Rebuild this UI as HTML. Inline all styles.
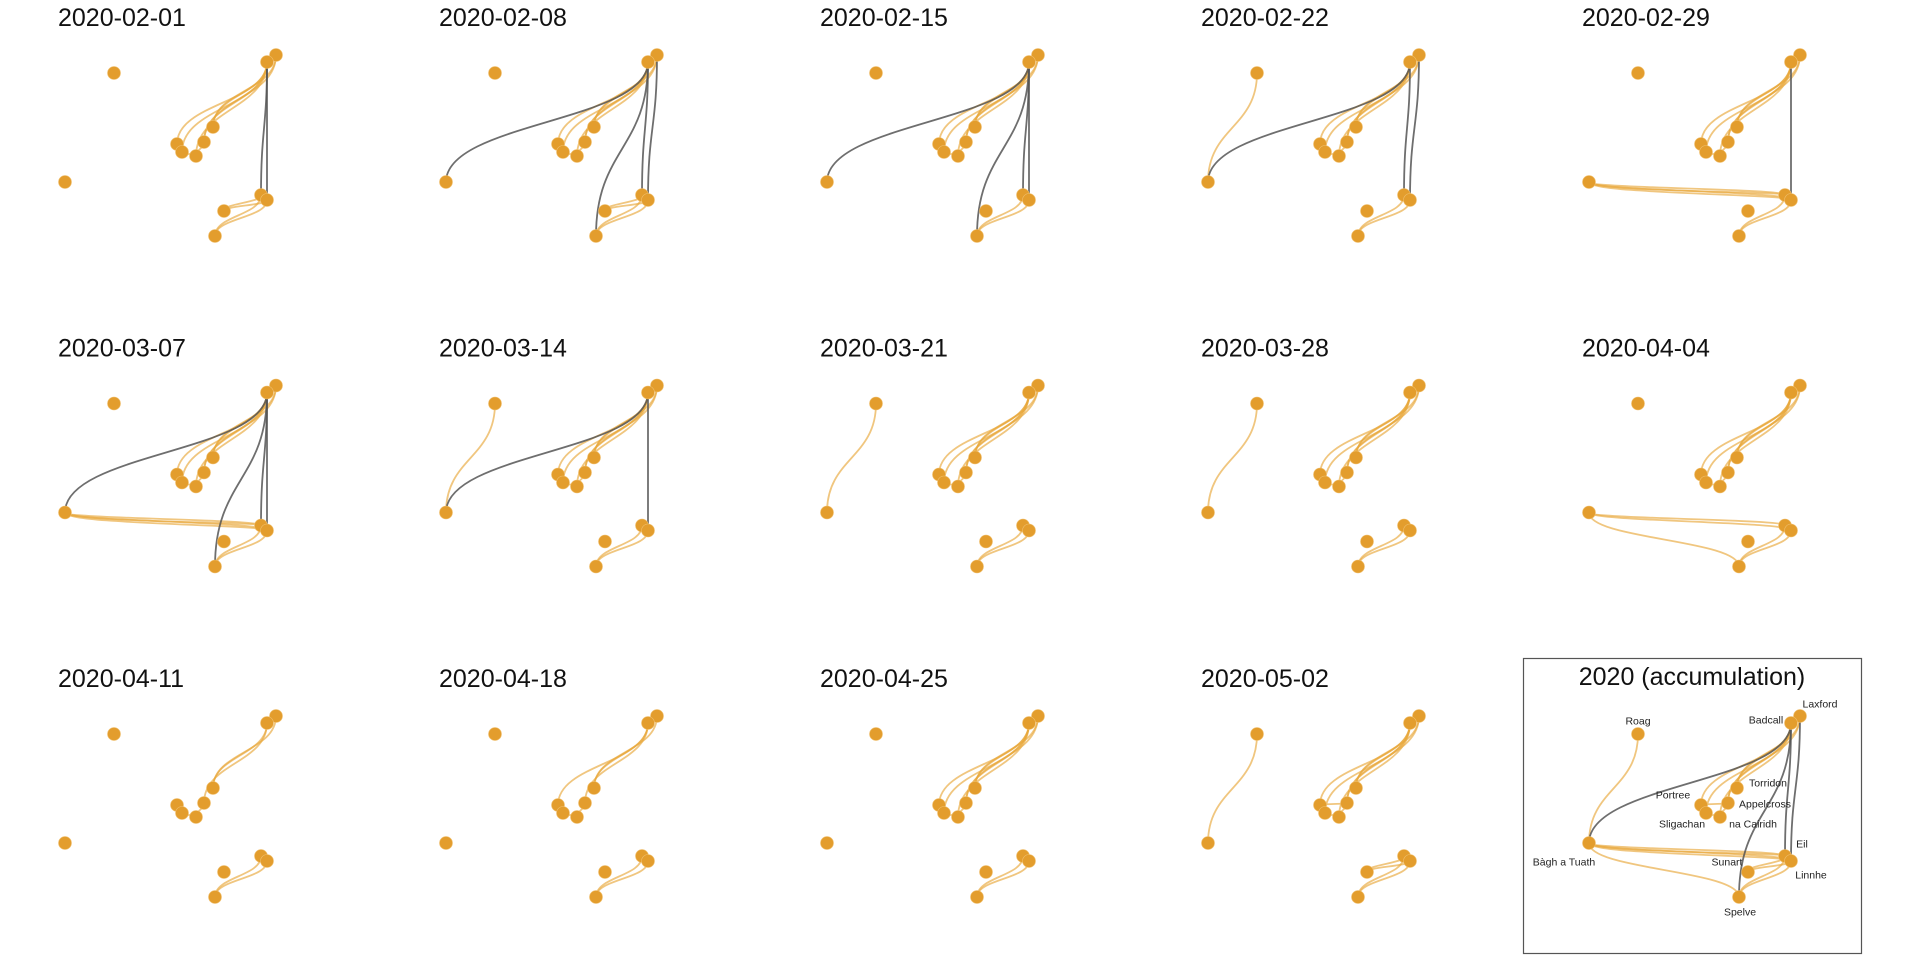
<!DOCTYPE html>
<html><head><meta charset="utf-8"><style>
html,body{margin:0;padding:0;background:#fff;width:1920px;height:960px;overflow:hidden}
svg{display:block}
text{font-family:"Liberation Sans",sans-serif}
</style></head><body>
<svg id="chart" width="1920" height="960" xmlns="http://www.w3.org/2000/svg"></svg>
<script>
const panelTitles = ["2020-02-01","2020-02-08","2020-02-15","2020-02-22","2020-02-29","2020-03-07","2020-03-14","2020-03-21","2020-03-28","2020-04-04","2020-04-11","2020-04-18","2020-04-25","2020-05-02","2020 (accumulation)"];
const nodeIds = ["LA","BA","RO","TO","AP","PO","SL","NC","BT","EI","LI","SU","SP"];
const nodeNames = ["Laxford","Badcall","Roag","Torridon","Appelcross","Portree","Sligachan","na Cairidh","Bàgh a Tuath","Eil","Linnhe","Sunart","Spelve"];
const nodeX = [276,267,114,213,204,177,182,196,65,261,267,224,215];
const nodeY = [55,62,73,127,142,144,152,156,182,195,200,211,236];
const bundle = [["BA","PO",1,"o"],["BA","SL",1,"o"],["BA","NC",1,"o"],["BA","AP",1,"o"],["BA","TO",1,"o"],["LA","AP",1,"o"],["LA","TO",1,"o"],["SL","NC",1,"o"],["AP","NC",1,"o"]];
const spEdges = [["EI","SP",1,"o"],["LI","SP",1,"o"]];
const suEdges = [["EI","SU",1,"o"],["LI","SU",1,"o"]];
const panelEdges = [
  bundle.concat(suEdges, spEdges, [["BA","EI",1,"g"],["BA","LI",1,"g"]]),
  bundle.concat(suEdges, spEdges, [["BA","EI",1,"g"],["LA","LI",1,"g"],["BA","BT",1,"g"],["BA","SP",1,"g"]]),
  bundle.concat(spEdges, [["BA","EI",1,"g"],["BA","LI",1,"g"],["BA","BT",1,"g"],["BA","SP",1,"g"]]),
  bundle.concat(spEdges, [["RO","BT",1,"o"],["BA","BT",1,"g"],["BA","EI",1,"g"],["LA","LI",1,"g"]]),
  bundle.concat(spEdges, [["BT","EI",2,"o"],["BT","LI",2,"o"],["BA","LI",1,"g"]]),
  bundle.concat(spEdges, [["BT","EI",2,"o"],["BT","LI",2,"o"],["BA","BT",1,"g"],["BA","SP",1,"g"],["BA","EI",1,"g"],["BA","LI",1,"g"]]),
  bundle.concat(spEdges, [["RO","BT",1,"o"],["BA","BT",1,"g"],["BA","LI",1,"g"]]),
  bundle.concat(spEdges, [["RO","BT",1,"o"]]),
  bundle.concat(spEdges, [["RO","BT",1,"o"]]),
  bundle.concat(spEdges, [["BT","EI",1,"o"],["BT","LI",1,"o"],["BT","SP",1,"o"]]),
  [["BA","TO",1,"o"],["BA","AP",1,"o"],["LA","TO",1,"o"],["AP","NC",1,"o"],["SL","NC",1,"o"]].concat(spEdges),
  [["BA","TO",1,"o"],["BA","AP",1,"o"],["BA","PO",1,"o"],["LA","TO",1,"o"],["AP","NC",1,"o"],["SL","NC",1,"o"]].concat(spEdges),
  bundle.concat(spEdges),
  bundle.concat(spEdges, suEdges, [["PO","AP",1,"o"],["RO","BT",1,"o"]]),
  bundle.concat(spEdges, suEdges, [["PO","AP",1,"o"],["RO","BT",1,"o"],["BT","EI",2,"o"],["BT","LI",2,"o"],["BT","SP",1,"o"],["BA","BT",1,"g"],["BA","SP",1,"g"],["BA","EI",1,"g"],["LA","LI",1,"g"]])
];
const labelDx = [20,-25,0,31,37,-28,-24,33,-25,17,20,-21,1];
const labelDy = [-12,-3,-13,-5,1,-10,11,7,19,-12,14,-10,15];

const NS="http://www.w3.org/2000/svg";
const svg=document.getElementById('chart');
function mk(tag,attrs,parent){const e=document.createElementNS(NS,tag);for(const k in attrs)e.setAttribute(k,attrs[k]);parent.appendChild(e);return e;}
const colStep=381, rowStep=330.5;
panelTitles.forEach((title,p)=>{
  const col=p%5,row=Math.floor(p/5);
  const ox=col*colStep, oy=row*rowStep;
  const g=mk('g',{},svg);
  
  
  const isAcc = p===14;
  if(isAcc){
    const box=mk('rect',{x:1523.5,y:658.5,width:338,height:295,fill:'none',stroke:'#555','stroke-width':1.2},g);
    
    
    const t=mk('text',{x:1692,y:685,'font-size':25,'text-anchor':'middle',fill:'#111'},g);
    t.textContent=title;
    
    
  } else {
    const t=mk('text',{x:58+ox,y:26+oy,'font-size':25,fill:'#111'},g);
    t.textContent=title;
    
    
  }
  const px=i=>nodeX[i]+ox, py=i=>nodeY[i]+oy;
  panelEdges[p].forEach(e=>{
    const a=nodeIds.indexOf(e[0]), b=nodeIds.indexOf(e[1]);
    for(let k=0;k<e[2];k++){
      const x0=px(a),y0=py(a),x1=px(b),y1=py(b);
      const my=(y0+y1)/2 + k*3;
      const path=mk('path',{d:`M${x0},${y0}C${x0},${my} ${x1},${my} ${x1},${y1}`,fill:'none',
        stroke:e[3]==='g'?'#555':'#e8a83a','stroke-opacity':e[3]==='g'?0.85:0.65,'stroke-width':1.8},g);
      
      
    }
  });
  nodeIds.forEach((id,i)=>{
    const c=mk('circle',{cx:px(i),cy:py(i),r:6.5,fill:'#e39d2d',stroke:'#f0c070','stroke-width':0.6},g);
    
    
    if(isAcc){
      const l=mk('text',{x:px(i)+labelDx[i],y:py(i)+labelDy[i]+3.5,'font-size':10.5,'text-anchor':'middle',fill:'#222'},g);
      l.textContent=nodeNames[i];
      
      
    }
  });
});
</script>
</body></html>
